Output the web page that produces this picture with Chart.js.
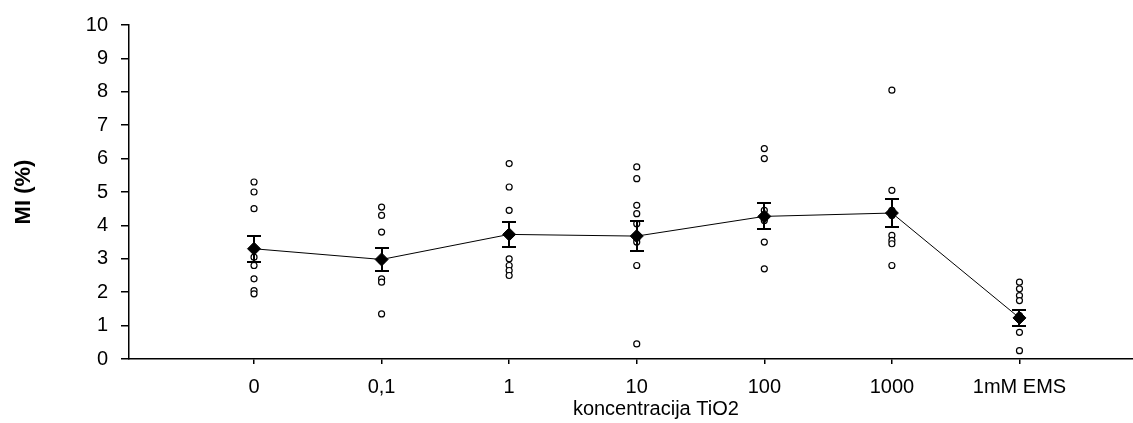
<!DOCTYPE html>
<html>
<head>
<meta charset="utf-8">
<script src="https://cdn.jsdelivr.net/npm/chart.js@4/dist/chart.umd.min.js"></script>
<style>
  html, body { margin: 0; padding: 0; background: #fff; }
  #wrap { width: 1133px; height: 423px; position: relative; }
</style>
</head>
<body>
<div id="wrap"><canvas id="chart"></canvas></div>
<script>
'use strict';

// koncentracije (x kategorije)
const categories = ['0', '0,1', '1', '10', '100', '1000', '1mM EMS'];

// srednje vrijednosti MI i standardne greške
const meanValues = [3.3, 2.98, 3.73, 3.68, 4.27, 4.37, 1.23];
const seValues = [0.39, 0.34, 0.38, 0.45, 0.39, 0.43, 0.25];

// pojedinačna mjerenja po koncentraciji
const obs0 = [5.3, 5.0, 4.5, 3.05, 2.8, 2.4, 2.05, 1.95];
const obs01 = [4.55, 4.3, 3.8, 2.95, 2.4, 2.3, 1.35];
const obs1 = [5.85, 5.15, 4.45, 3.75, 3.0, 2.8, 2.65, 2.5];
const obs10 = [5.75, 5.4, 4.6, 4.35, 4.05, 3.6, 3.5, 2.8, 0.45];
const obs100 = [6.3, 6.0, 4.45, 4.3, 4.15, 3.5, 2.7];
const obs1000 = [8.05, 5.05, 4.45, 4.3, 3.7, 3.55, 3.45, 2.8];
const obsEms = [2.3, 2.1, 1.9, 1.75, 1.3, 0.8, 0.25];
const observations = [obs0, obs01, obs1, obs10, obs100, obs1000, obsEms];

// y os
const yTicks = [0, 1, 2, 3, 4, 5, 6, 7, 8, 9, 10];

const FONT = "'Liberation Sans', Arial, sans-serif";

// točke za scatter
const scatterPoints = [];
observations.forEach((list, i) => {
    list.forEach((v) => scatterPoints.push({ x: i, y: v }));
});

// error bars + naslov x osi
const errorBars = {
    id: 'errorBars',
    afterDatasetsDraw(chart) {
        const { ctx, scales: { x, y } } = chart;
        ctx.save();
        ctx.strokeStyle = '#000';
        ctx.lineWidth = 2;
        meanValues.forEach((m, i) => {
            const px = Math.round(x.getPixelForValue(i));
            const top = Math.round(y.getPixelForValue(m + seValues[i]));
            const bot = Math.round(y.getPixelForValue(m - seValues[i]));
            ctx.beginPath();
            ctx.moveTo(px, top);
            ctx.lineTo(px, bot);
            ctx.moveTo(px - 7, top);
            ctx.lineTo(px + 7, top);
            ctx.moveTo(px - 7, bot);
            ctx.lineTo(px + 7, bot);
            ctx.stroke();
        });
        ctx.restore();
    },
    afterDraw(chart) {
        const { ctx, scales: { x } } = chart;
        ctx.save();
        ctx.font = '20px ' + FONT;
        ctx.fillStyle = '#000';
        ctx.textAlign = 'center';
        ctx.textBaseline = 'middle';
        ctx.fillText('koncentracija TiO2', x.getPixelForValue(3.15), 409);
        ctx.restore();
    }
};

new Chart(document.getElementById('chart'), {
    data: {
        datasets: [
            {
                type: 'line',
                label: 'prosjek',
                data: meanValues.map((v, i) => ({ x: i, y: v })),
                borderColor: '#000',
                borderWidth: 1,
                pointStyle: 'rectRot',
                pointRadius: 6.5,
                pointBackgroundColor: '#000',
                pointBorderColor: '#000',
                pointBorderWidth: 1,
                order: 0,
            },
            {
                type: 'scatter',
                label: 'mjerenja',
                data: scatterPoints,
                pointStyle: 'circle',
                pointRadius: 3,
                pointBackgroundColor: '#fff',
                pointBorderColor: '#000',
                pointBorderWidth: 1.2,
                order: 1,
            },
        ],
    },
    options: {
        responsive: true,
        maintainAspectRatio: false,
        animation: false,
        events: [],
        layout: { autoPadding: false, padding: { top: 24, right: 0, left: 11, bottom: 0 } },
        scales: {
            x: {
                type: 'linear',
                min: -0.98,
                max: 6.89,
                afterBuildTicks: (s) => {
                    s.ticks = categories.map((_, i) => ({ value: i }));
                },
                afterFit: (s) => {
                    s.height = 64;
                    s.paddingLeft = 0;
                    s.paddingRight = 0;
                },
                border: { color: '#000', width: 1.5 },
                grid: { drawOnChartArea: false, color: '#000', tickLength: 5, lineWidth: 1.5 },
                ticks: {
                    color: '#000',
                    font: { family: FONT, size: 20 },
                    padding: 11,
                    maxRotation: 0,
                    callback: (v) => categories[v],
                },
            },
            y: {
                min: 0,
                max: 10,
                afterBuildTicks: (s) => {
                    s.ticks = yTicks.map((v) => ({ value: v }));
                },
                afterFit: (s) => { s.width = 118; },
                border: { color: '#000', width: 1.5 },
                grid: { drawOnChartArea: false, color: '#000', tickLength: 8, lineWidth: 1.5 },
                ticks: {
                    color: '#000',
                    font: { family: FONT, size: 20 },
                    padding: 13,
                },
                title: {
                    display: true,
                    text: 'MI (%)',
                    color: '#000',
                    font: { family: FONT, size: 22, weight: 'bold' },
                    padding: { top: 0, bottom: 0 },
                },
            },
        },
        plugins: {
            legend: { display: false },
            tooltip: { enabled: false },
        },
    },
    plugins: [errorBars],
});
</script>
</body>
</html>
